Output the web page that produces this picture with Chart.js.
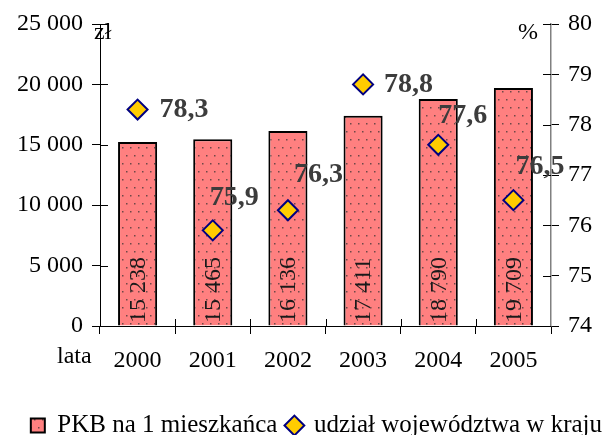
<!DOCTYPE html>
<html>
<head>
<meta charset="utf-8">
<script src="https://cdn.jsdelivr.net/npm/chart.js@4/dist/chart.umd.min.js"></script>
<style>
  body { margin: 0; background: #fff; }
  canvas { display: block; }
</style>
</head>
<body>
<canvas id="chart" width="612" height="435"></canvas>
<script>
// data
const years = ['2000', '2001', '2002', '2003', '2004', '2005'];
const pkbPerCapita = [15238, 15465, 16136, 17411, 18790, 19709];
const shareOfCountry = [78.3, 75.9, 76.3, 78.8, 77.6, 76.5];

// where the bold % labels sit relative to their diamond
const shareLabelShift = [[22, 0], [-3, -33], [6, -35], [21, 0], [0, -29], [2, -33]];

const serif = '"Liberation Serif", "Times New Roman", serif';
Chart.defaults.font.family = serif;
Chart.defaults.color = '#000';

function spaced(v) {
    return String(v).replace(/\B(?=(\d{3})+(?!\d))/g, ' ');
}

// dotted salmon fill for the bars
function dotPattern() {
    const c = document.createElement('canvas');
    c.width = 8;
    c.height = 16;
    const g = c.getContext('2d');
    g.fillStyle = '#FF8080';
    g.fillRect(0, 0, 8, 16);
    g.fillStyle = '#6e4848';
    g.fillRect(2, 3, 1.5, 1.5);
    g.fillRect(6, 11, 1.5, 1.5);
    return g.createPattern(c, 'repeat');
}

const extrasPlugin = {
    id: 'extras',
    afterDraw(chart) {
        const ctx = chart.ctx;
        const area = chart.chartArea;
        const xs = chart.scales.x;
        const ys = chart.scales.y;
        const y1 = chart.scales.y1;
        ctx.save();

        // inner halves of the crossing tick marks
        ctx.strokeStyle = '#000';
        ctx.lineWidth = 1;
        ctx.beginPath();
        ys.ticks.forEach(t => {
            const py = Math.round(ys.getPixelForValue(t.value)) + 0.5;
            ctx.moveTo(area.left, py);
            ctx.lineTo(area.left + 8, py);
        });
        y1.ticks.forEach(t => {
            const py = Math.round(y1.getPixelForValue(t.value)) + 0.5;
            ctx.moveTo(area.right - 8, py);
            ctx.lineTo(area.right, py);
        });
        const step = (xs.right - xs.left) / years.length;
        for (let i = 1; i < years.length; i++) {
            const px = Math.round(xs.left + i * step) + 0.5;
            ctx.moveTo(px, area.bottom - 7);
            ctx.lineTo(px, area.bottom);
        }
        ctx.stroke();

        // vertical values inside the bars
        const barMeta = chart.getDatasetMeta(1);
        ctx.fillStyle = '#1a1a1a';
        ctx.font = '24px ' + serif;
        ctx.textAlign = 'left';
        ctx.textBaseline = 'middle';
        barMeta.data.forEach((bar, i) => {
            ctx.save();
            ctx.translate(bar.x, area.bottom - 3);
            ctx.rotate(-Math.PI / 2);
            ctx.fillText(spaced(pkbPerCapita[i]), 0, 1);
            ctx.restore();
        });

        // bold share labels
        const lineMeta = chart.getDatasetMeta(0);
        ctx.fillStyle = '#3c3c3c';
        ctx.font = 'bold 28px ' + serif;
        lineMeta.data.forEach((pt, i) => {
            const s = shareLabelShift[i];
            ctx.fillText(shareOfCountry[i].toFixed(1).replace('.', ','), pt.x + s[0], pt.y + s[1]);
        });

        // unit captions
        ctx.fillStyle = '#000';
        ctx.font = '24px ' + serif;
        ctx.textBaseline = 'alphabetic';
        ctx.textAlign = 'left';
        ctx.fillText('zł', area.left - 6, area.top + 15);
        ctx.textAlign = 'right';
        ctx.fillText('%', area.right - 13, area.top + 15);
        ctx.textAlign = 'left';
        ctx.textBaseline = 'middle';
        ctx.fillText('lata', 57, area.bottom + 31);

        ctx.restore();
    }
};

new Chart(document.getElementById('chart'), {
    data: {
        labels: years,
        datasets: [{
            type: 'line',
            label: 'udział województwa w kraju',
            data: shareOfCountry,
            yAxisID: 'y1',
            showLine: false,
            order: 0,
            pointStyle: 'rectRot',
            pointRadius: 10,
            pointHoverRadius: 10,
            pointBackgroundColor: '#FFCC00',
            pointBorderColor: '#000080',
            pointBorderWidth: 2,
            backgroundColor: '#FFCC00',
            borderColor: '#000080',
            borderWidth: 2
        }, {
            type: 'bar',
            label: 'PKB na 1 mieszkańca',
            data: pkbPerCapita,
            yAxisID: 'y',
            order: 1,
            backgroundColor: dotPattern(),
            borderColor: '#000',
            borderWidth: 2,
            borderSkipped: 'start',
            categoryPercentage: 1,
            barPercentage: 0.52
        }]
    },
    options: {
        responsive: false,
        animation: false,
        events: [],
        layout: { padding: { top: 24, left: 0, right: 0, bottom: -13 } },
        plugins: {
            tooltip: { enabled: false },
            legend: {
                position: 'bottom',
                align: 'end',
                labels: {
                    usePointStyle: true,
                    boxWidth: 14,
                    boxHeight: 14,
                    padding: 10,
                    font: { size: 25 },
                    color: '#000',
                    sort: (a, b) => b.datasetIndex - a.datasetIndex,
                    generateLabels(chart) {
                        const items = Chart.defaults.plugins.legend.labels.generateLabels(chart);
                        items.forEach(it => {
                            it.pointStyle = it.datasetIndex === 1 ? 'rect' : 'rectRot';
                            it.lineWidth = 2;
                        });
                        return items;
                    }
                }
            }
        },
        scales: {
            x: {
                grid: { drawOnChartArea: false, tickLength: 8, color: '#000', offset: true },
                border: { color: '#000', width: 1 },
                ticks: { font: { size: 24 }, color: '#000', padding: 12 },
                afterFit(scale) { scale.height = 77; }
            },
            y: {
                position: 'left',
                min: 0,
                max: 25000,
                ticks: {
                    stepSize: 5000,
                    font: { size: 24 },
                    color: '#000',
                    padding: 9,
                    callback: v => spaced(v)
                },
                grid: { drawOnChartArea: false, tickLength: 8, color: '#000' },
                border: { color: '#000', width: 1 },
                afterFit(scale) { scale.width = 100; }
            },
            y1: {
                position: 'right',
                min: 74,
                max: 80,
                ticks: { stepSize: 1, font: { size: 24 }, color: '#000', padding: 9 },
                grid: { drawOnChartArea: false, tickLength: 8, color: '#000' },
                border: { color: '#808080', width: 1.5 },
                afterFit(scale) { scale.width = 61; }
            }
        }
    },
    plugins: [extrasPlugin]
});
</script>
</body>
</html>
